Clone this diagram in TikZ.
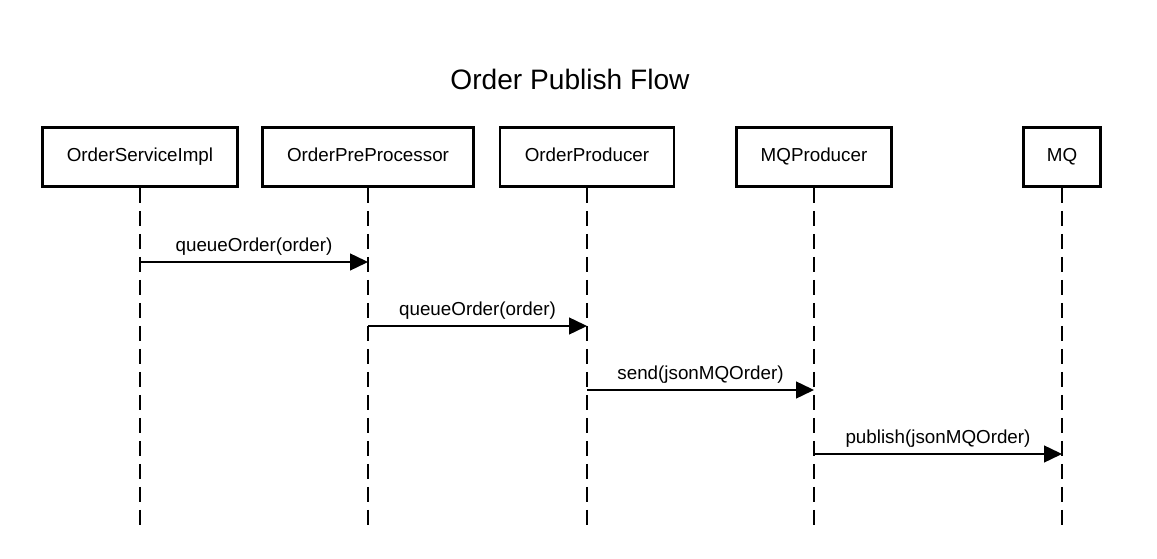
\documentclass[tikz,border=0pt]{standalone}
\usepackage{fontspec}
\setmainfont{Liberation Sans}
\usetikzlibrary{positioning,arrows.meta}
\tikzstyle{actor}=[draw, line width=1.7pt, minimum height=1.18cm, inner sep=0pt, text height=0.72em, text depth=0.21em, font=\fontsize{10.7}{12}\selectfont]
\tikzstyle{life}=[line width=0.8pt, dash pattern=on 0.3cm off 0.16cm]
\tikzstyle{msg}=[-{Triangle[length=0.36cm,width=0.34cm]}, line width=0.8pt]
\tikzstyle{lbl}=[above, inner sep=3.2pt, font=\fontsize{10.7}{12}\selectfont]

\begin{document}
\begin{tikzpicture}
        \useasboundingbox (0,0) rectangle (23.14,-11.18);
        \node[font=\fontsize{16}{19}\selectfont] (title) at (11.4,-1.58) {Order Publish Flow};

        \node[actor, minimum width=3.9cm] (osi) at (2.80,-3.14) {OrderServiceImpl};
        \node[actor, minimum width=4.22cm] (opp) at (7.36,-3.14) {OrderPreProcessor};
        \node[actor, minimum width=3.48cm] (op) at (11.74,-3.14) {OrderProducer};
        \node[actor, minimum width=3.1cm] (mqp) at (16.28,-3.14) {MQProducer};
        \node[actor, minimum width=1.54cm] (mq) at (21.24,-3.14) {MQ};

        \coordinate (osi-end) at (2.80,-10.6);
        \coordinate (opp-end) at (7.36,-10.6);
        \coordinate (op-end) at (11.74,-10.6);
        \coordinate (mqp-end) at (16.28,-10.6);
        \coordinate (mq-end) at (21.24,-10.6);

        \draw[life] (osi) -- (osi-end);
        \draw[life] (opp) -- (opp-end);
        \draw[life] (op) -- (op-end);
        \draw[life] (mqp) -- (mqp-end);
        \draw[life] (mq) -- (mq-end);

        \coordinate (m1a) at (2.80,-5.24);
        \coordinate (m1b) at (7.36,-5.24);
        \coordinate (m2a) at (7.36,-6.52);
        \coordinate (m2b) at (11.74,-6.52);
        \coordinate (m3a) at (11.74,-7.80);
        \coordinate (m3b) at (16.28,-7.80);
        \coordinate (m4a) at (16.28,-9.08);
        \coordinate (m4b) at (21.24,-9.08);

        \draw[msg] (m1a) -- node[lbl] {queueOrder(order)} (m1b);
        \draw[msg] (m2a) -- node[lbl] {queueOrder(order)} (m2b);
        \draw[msg] (m3a) -- node[lbl] {send(jsonMQOrder)} (m3b);
        \draw[msg] (m4a) -- node[lbl] {publish(jsonMQOrder)} (m4b);
    \end{tikzpicture}
\end{document}
